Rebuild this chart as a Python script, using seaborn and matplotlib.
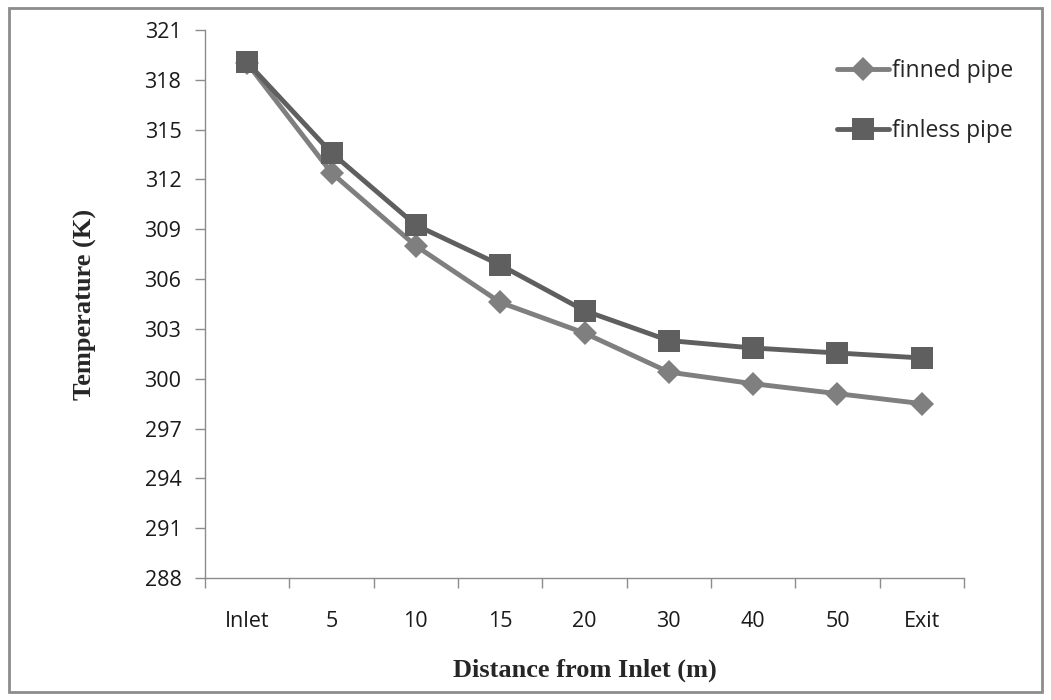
import seaborn as sns
import matplotlib.pyplot as plt
import pandas as pd
from matplotlib.patches import Rectangle
from matplotlib.ticker import FixedLocator

sns.set_theme(style="white")

# データ
positions = ['Inlet', '5', '10', '15', '20', '30', '40', '50', 'Exit']
finned_pipe = [319.0, 312.4, 308.0, 304.6, 302.75, 300.4, 299.7, 299.1, 298.5]
finless_pipe = [319.05, 313.6, 309.25, 306.85, 304.1, 302.3, 301.85, 301.55, 301.25]
y_ticks = list(range(288, 322, 3))

df = pd.concat([
    pd.DataFrame({'pos': positions, 'temp': finned_pipe, 'pipe': 'finned pipe'}),
    pd.DataFrame({'pos': positions, 'temp': finless_pipe, 'pipe': 'finless pipe'}),
])

fig = plt.figure(figsize=(10.51, 7), dpi=100)
ax = fig.add_axes([205 / 1051, 1 - 578 / 700, (964 - 205) / 1051, (578 - 30) / 700])

palette = {'finned pipe': '#7f7f7f', 'finless pipe': '#5f5f5f'}
markers = {'finned pipe': 'D', 'finless pipe': 's'}
sizes = {'finned pipe': 12.5, 'finless pipe': 15.5}

for name in ['finned pipe', 'finless pipe']:
    sub = df[df['pipe'] == name]
    sns.lineplot(data=sub, x='pos', y='temp', ax=ax, sort=False,
                 color=palette[name], marker=markers[name],
                 markersize=sizes[name], markeredgewidth=0,
                 linewidth=3.5, label=name)

ax.set_xlim(-0.5, len(positions) - 0.5)
ax.set_ylim(288, 321)
ax.set_yticks(y_ticks)
ax.set_xticks(range(len(positions)))
ax.set_xticklabels(positions)
ax.xaxis.set_minor_locator(FixedLocator([i - 0.5 for i in range(len(positions) + 1)]))

for s in ['top', 'right']:
    ax.spines[s].set_visible(False)
for s in ['left', 'bottom']:
    ax.spines[s].set_color('#8c8c8c')
    ax.spines[s].set_linewidth(1)

ax.tick_params(axis='y', which='major', left=True, length=7, width=1,
               color='#8c8c8c', labelsize=15.5, pad=10)
ax.tick_params(axis='x', which='major', bottom=False, length=0,
               labelsize=15.5, pad=24)
ax.tick_params(axis='x', which='minor', bottom=True, length=7, width=1,
               color='#8c8c8c')
for lbl in ax.get_xticklabels() + ax.get_yticklabels():
    lbl.set_fontfamily('Open Sans')
    lbl.set_color('#1a1a1a')

ax.set_xlabel('Distance from Inlet (m)', fontfamily='Liberation Serif',
              fontweight='bold', fontsize=19, labelpad=19)
ax.set_ylabel('Temperature (K)', fontfamily='Liberation Serif',
              fontweight='bold', fontsize=19, labelpad=34)

leg = ax.legend(loc='upper left', bbox_to_anchor=(816 / 1051, 1 - 38 / 700),
                bbox_transform=fig.transFigure, frameon=False,
                prop={'family': 'Open Sans', 'size': 16.5}, handlelength=2.3,
                handletextpad=0.1, labelspacing=1.6)

# 外枠
fig.patches.append(Rectangle((9 / 1051, 8 / 700), 1 - 18 / 1051, 1 - 16 / 700,
                             transform=fig.transFigure, fill=False,
                             edgecolor='#8c8c8c', linewidth=2))

fig.savefig('out.png', dpi=100)
